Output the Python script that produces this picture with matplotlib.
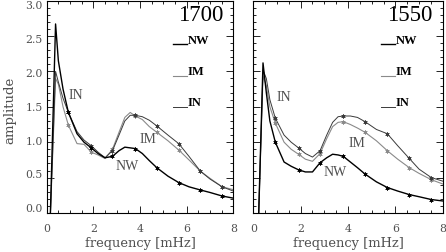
import matplotlib
matplotlib.use('Agg')
import matplotlib.pyplot as plt
from matplotlib.ticker import MultipleLocator
from matplotlib.transforms import ScaledTranslation

plt.rcParams['font.family'] = ['Liberation Serif', 'DejaVu Serif']

# frequency grids [mHz]
freq_1700 = [0.15, 0.38, 0.5, 0.7, 0.93, 1.3, 1.6, 1.91, 2.2, 2.5, 2.82, 3.1, 3.35,
             3.58, 3.8, 4.1, 4.4, 4.72, 5.2, 5.66, 6.1, 6.59, 7.0, 7.52, 8.0]
freq_1550 = [0.22, 0.41, 0.55, 0.7, 0.93, 1.3, 1.6, 1.91, 2.2, 2.5, 2.82, 3.1, 3.35,
             3.58, 3.8, 4.1, 4.4, 4.72, 5.2, 5.66, 6.1, 6.59, 7.0, 7.52, 8.0]
marker_idx = [4, 7, 10, 14, 17, 19, 21, 23]

# amplitude, 1700 band
nw_1700 = [-0.1, 2.67, 2.15, 1.75, 1.42, 1.12, 1.00, 0.92, 0.84, 0.78, 0.80, 0.88, 0.93,
           0.92, 0.91, 0.84, 0.74, 0.64, 0.52, 0.43, 0.37, 0.325, 0.29, 0.24, 0.21]
im_1700 = [-0.1, 1.90, 1.82, 1.50, 1.24, 0.98, 0.97, 0.86, 0.82, 0.77, 0.90, 1.14, 1.35,
           1.42, 1.37, 1.32, 1.22, 1.14, 1.02, 0.89, 0.75, 0.59, 0.49, 0.37, 0.33]
in_1700 = [-0.1, 2.00, 1.85, 1.62, 1.42, 1.15, 1.03, 0.95, 0.86, 0.78, 0.88, 1.10, 1.30,
           1.38, 1.38, 1.36, 1.31, 1.23, 1.10, 0.98, 0.80, 0.59, 0.48, 0.37, 0.31]

# amplitude, 1550 band
nw_1550 = [-0.1, 2.12, 1.70, 1.30, 1.00, 0.72, 0.66, 0.61, 0.58, 0.58, 0.71, 0.78, 0.83,
           0.82, 0.80, 0.72, 0.64, 0.55, 0.44, 0.36, 0.31, 0.26, 0.23, 0.19, 0.17]
im_1550 = [-0.1, 1.93, 1.80, 1.50, 1.27, 1.00, 0.90, 0.83, 0.76, 0.73, 0.84, 1.05, 1.22,
           1.28, 1.29, 1.25, 1.20, 1.14, 1.02, 0.88, 0.76, 0.64, 0.56, 0.47, 0.41]
in_1550 = [-0.1, 2.02, 1.90, 1.60, 1.34, 1.10, 1.00, 0.92, 0.84, 0.79, 0.88, 1.10, 1.28,
           1.36, 1.37, 1.37, 1.35, 1.29, 1.18, 1.12, 0.95, 0.77, 0.62, 0.50, 0.45]

ytick_vals = [0.0, 0.5, 1.0, 1.5, 2.0, 2.5, 3.0]
xtick_vals = [0, 2, 4, 6, 8]

panels = [
    dict(title='1700', freq=freq_1700, nw=nw_1700, im=im_1700, inn=in_1700,
         lab_in=(1.23, 1.68), lab_im=(4.34, 1.05), lab_nw=(3.44, 0.67), leg_x=5.40),
    dict(title='1550', freq=freq_1550, nw=nw_1550, im=im_1550, inn=in_1550,
         lab_in=(1.27, 1.64), lab_im=(4.37, 0.99), lab_nw=(3.45, 0.58), leg_x=5.38),
]

styles = {
    'nw': dict(color='black', lw=1.0),
    'im': dict(color='#8a8a8a', lw=0.8),
    'inn': dict(color='#3a3a3a', lw=0.7),
}
names = {'nw': 'NW', 'im': 'IM', 'inn': 'IN'}
leg_y = {'nw': 2.45, 'im': 2.00, 'inn': 1.57}

DPI = 100
fig = plt.figure(figsize=(4.46, 2.53), dpi=DPI)
rects = [[46.7 / 446, 39 / 253, 186.6 / 446, 212.4 / 253],
         [253.3 / 446, 39 / 253, 189.4 / 446, 212.4 / 253]]

txt_col = '#505050'
tick_font = dict(family='DejaVu Serif', size=7.8, color=txt_col)
for i, (p, r) in enumerate(zip(panels, rects)):
    ax = fig.add_axes(r)
    for key in ('im', 'inn', 'nw'):
        ax.plot(p['freq'], p[key], marker=(6, 2, 0), markevery=marker_idx, ms=3,
                mew=0.5, **styles[key])
    ax.set_xlim(0, 8)
    ax.set_ylim(0, 3)
    ax.set_xticks(xtick_vals)
    ax.set_yticks(ytick_vals)
    ax.xaxis.set_minor_locator(MultipleLocator(0.5))
    ax.yaxis.set_minor_locator(MultipleLocator(0.1))
    ax.tick_params(which='both', direction='in', top=True, right=True,
                   width=0.6, colors='black')
    ax.tick_params(which='major', length=5)
    ax.tick_params(which='minor', length=2.5)
    ax.tick_params(axis='x', pad=7, labelcolor=txt_col)
    ax.set_xticklabels(['%d' % v for v in xtick_vals], fontdict=tick_font)
    ax.set_yticklabels([])
    for s in ax.spines.values():
        s.set_linewidth(0.8)

    if i == 0:
        # IDL-style y labels, spread slightly less than the ticks
        for v in ytick_vals:
            dy = 4.7 * (1 - 2 * v / 3.0)
            tr = ax.get_yaxis_transform() + ScaledTranslation(-3.7 / DPI, dy / DPI,
                                                              fig.dpi_scale_trans)
            ax.text(0, v, '%.1f' % v, transform=tr, ha='right', va='center',
                    **tick_font)
        fig.text(10 / 446, 1 - 110 / 253, 'amplitude', rotation=90, ha='center',
                 va='center', family='DejaVu Serif', size=9.5, color=txt_col)

    ax.text(0.5, -0.138, 'frequency [mHz]', transform=ax.transAxes, ha='center',
            va='center', family='DejaVu Serif', size=9.4, color=txt_col)

    ax.text(7.58, 2.80, p['title'], fontsize=16.5, ha='right', va='center')
    for key in ('nw', 'im', 'inn'):
        y = leg_y[key]
        ax.plot([p['leg_x'], p['leg_x'] + 0.6], [y - 0.07, y - 0.07], **styles[key])
        ax.text(p['leg_x'] + 0.63, y, names[key], fontsize=9, fontweight='bold',
                ha='left', va='center')
    ax.text(*p['lab_in'], 'IN', fontsize=10, color=txt_col, ha='center', va='center')
    ax.text(*p['lab_im'], 'IM', fontsize=10, color=txt_col, ha='center', va='center')
    ax.text(*p['lab_nw'], 'NW', fontsize=10, color=txt_col, ha='center', va='center')

fig.savefig('out.png', dpi=DPI)
